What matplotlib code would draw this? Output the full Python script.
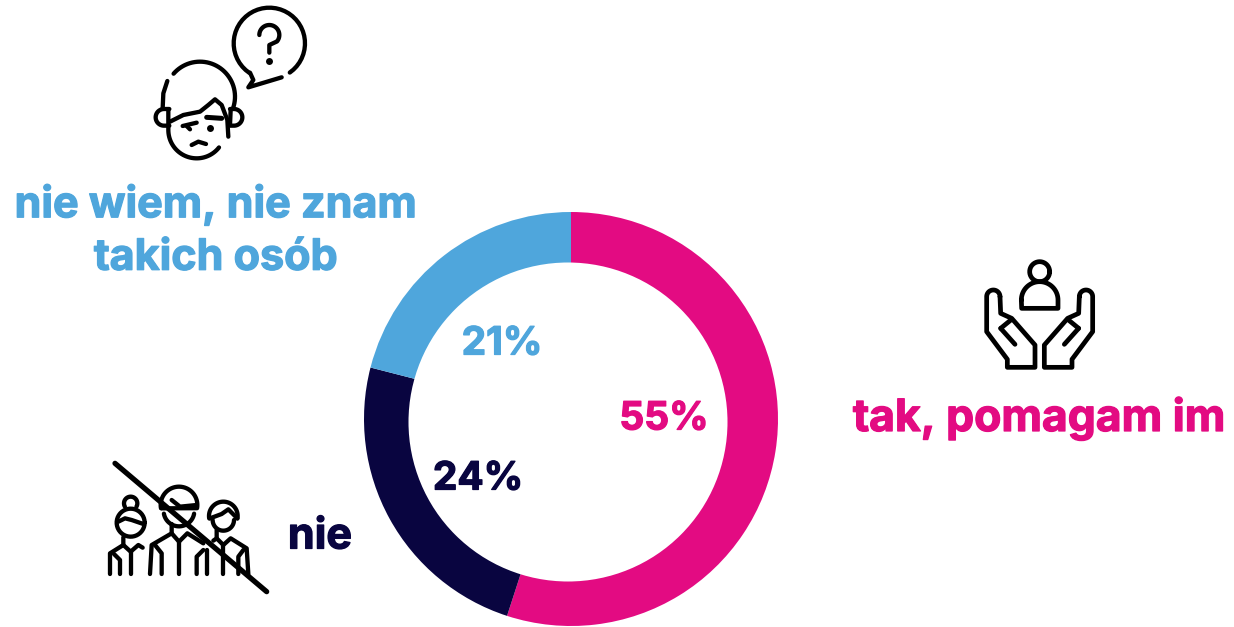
import numpy as np
import matplotlib
matplotlib.use("Agg")
import matplotlib.pyplot as plt
import matplotlib.patheffects as pe
from matplotlib.patches import Circle

labels = ["tak, pomagam im", "nie", "nie wiem, nie znam\ntakich osób"]
values = [55, 24, 21]
pct_labels = ["55%", "24%", "21%"]
colors = ["#E30B82", "#090540", "#4FA6DC"]

W, H = 1234, 627
fig = plt.figure(figsize=(W / 100, H / 100), dpi=100)
plt.rcParams["font.family"] = ["Inter", "DejaVu Sans"]

# donut, hole is added below because it sits a bit off centre in the original
ax = fig.add_axes([364 / W, (H - 626) / H, 414 / W, 414 / H])
ax.pie(values, colors=colors, startangle=90, counterclock=False, radius=1)
ax.set_xlim(-1, 1)
ax.set_ylim(-1, 1)

# overlay in pixels for text and icons
ov = fig.add_axes([0, 0, 1, 1])
ov.set_xlim(0, W)
ov.set_ylim(H, 0)
ov.axis("off")
ov.patch.set_alpha(0)
ov.add_patch(Circle((568, 422), 159.5, color="white", lw=0))

font = dict(fontweight="bold", ha="center", va="center")


def label(x, y, s, c, size):
    t = ov.text(x, y, s, color=c, fontsize=size, linespacing=1.36, **font)
    t.set_path_effects([pe.withStroke(linewidth=0.9, foreground=c)])


label(216, 231, labels[2], colors[2], 31)
label(1039, 418, labels[0], colors[0], 32)
label(320, 537, labels[1], colors[1], 31)
label(664, 419, pct_labels[0], colors[0], 28)
label(478, 479, pct_labels[1], colors[1], 28)
label(502, 344, pct_labels[2], colors[2], 28)


def arc(cx, cy, r, a0, a1):
    t = np.radians(np.linspace(a0, a1, 40))
    return np.column_stack([cx + r * np.cos(t), cy + r * np.sin(t)])


def stroke(pts, ox, oy, lw=3.1):
    pts = np.asarray(pts, dtype=float)
    ov.plot(ox + pts[:, 0] / 3, oy + pts[:, 1] / 3, color="black", lw=lw,
            solid_capstyle="round", solid_joinstyle="round")


def dot(x, y, ox, oy, s=5):
    ov.plot(ox + x / 3, oy + y / 3, "o", color="black", ms=s, mew=0)


# confused face icon
ox, oy = 140, 0
stroke(arc(388, 130, 107, 55, -236), ox, oy)
stroke([(330, 218), (340, 240), (325, 262), (425, 232)], ox, oy)
stroke(np.vstack([arc(388, 105, 30, 180, 400), [(388, 135), (388, 158)]]), ox, oy)
dot(388, 183, ox, oy)
stroke(arc(180, 290, 105, -139, 19), ox, oy)
stroke([(82, 243), (70, 280), (68, 325)], ox, oy)
stroke(np.vstack([[(85, 330)], arc(170, 390, 85, 180, 38)]), ox, oy)
stroke([(90, 365), (130, 345), (180, 335), (205, 315), (225, 298), (245, 315), (262, 360), (265, 410)], ox, oy)
stroke([(272, 330), (270, 375)], ox, oy)
stroke(np.vstack([[(88, 327)], arc(72, 352, 25, -90, -270), [(88, 377)]]), ox, oy)
stroke(np.vstack([[(270, 327)], arc(282, 352, 25, -90, 90), [(270, 377)]]), ox, oy)
stroke([(200, 352), (245, 355)], ox, oy, lw=3.6)
stroke([(128, 378), (170, 368)], ox, oy)
stroke([(140, 378), (150, 388)], ox, oy)
dot(210, 385, ox, oy)
stroke([(155, 435), (175, 425), (198, 432)], ox, oy)

# people crossed out icon
ox, oy = 100, 450
stroke(arc(92, 160, 20, 150, 390), ox, oy)
stroke(arc(92, 218, 42, 0, 360), ox, oy)
stroke([(55, 215), (75, 205), (95, 210), (130, 222)], ox, oy)
stroke([(70, 262), (70, 285), (30, 310), (30, 372)], ox, oy)
stroke([(42, 312), (60, 330), (60, 372)], ox, oy)
stroke([(70, 285), (92, 305), (115, 285), (128, 293)], ox, oy)
stroke([(92, 305), (92, 372)], ox, oy)
stroke(np.vstack([arc(237, 165, 55, 170, 370), [(185, 175)]]), ox, oy)
stroke([(215, 150), (240, 170), (290, 165)], ox, oy)
stroke(arc(237, 183, 46, 10, 170), ox, oy)
stroke([(215, 222), (215, 250), (155, 285), (150, 372)], ox, oy)
stroke([(185, 372), (185, 310), (165, 285)], ox, oy)
stroke([(215, 250), (237, 275), (262, 250), (310, 280)], ox, oy)
stroke([(237, 275), (237, 372)], ox, oy)
stroke([(290, 372), (290, 320), (310, 300)], ox, oy)
stroke([(322, 372), (322, 300)], ox, oy)
stroke(arc(370, 198, 43, 170, 370), ox, oy)
stroke([(330, 205), (365, 192), (385, 178), (412, 205)], ox, oy)
stroke(arc(370, 210, 32, 0, 180), ox, oy)
stroke([(350, 240), (350, 265), (340, 272)], ox, oy)
stroke([(350, 265), (370, 285), (392, 265), (440, 295), (445, 372)], ox, oy)
stroke([(415, 372), (415, 320), (430, 300)], ox, oy)
stroke([(370, 285), (370, 372)], ox, oy)
stroke([(45, 40), (500, 425)], ox, oy, lw=3.8)

# helping hands icon
ox, oy = 970, 250
stroke(arc(209, 65, 30, 0, 360), ox, oy, lw=3.4)
stroke(np.vstack([arc(209, 150, 55, 180, 360), [(264, 175), (155, 175), (154, 150)]]), ox, oy, lw=3.4)
hand = np.vstack([arc(70, 140, 20, 0, -180),
                  [(50, 245), (112, 328), (112, 352), (195, 352), (195, 285), (125, 205), (92, 190), (90, 140)]])
thumb = np.array([(92, 235), (135, 283)])
thumb2 = np.array([(125, 208), (92, 235)])
for mirror in (False, True):
    for part in (hand, thumb, thumb2):
        p = part.copy()
        if mirror:
            p[:, 0] = 418 - p[:, 0]
        stroke(p, ox, oy, lw=3.4)

fig.savefig("out.png", dpi=100)
